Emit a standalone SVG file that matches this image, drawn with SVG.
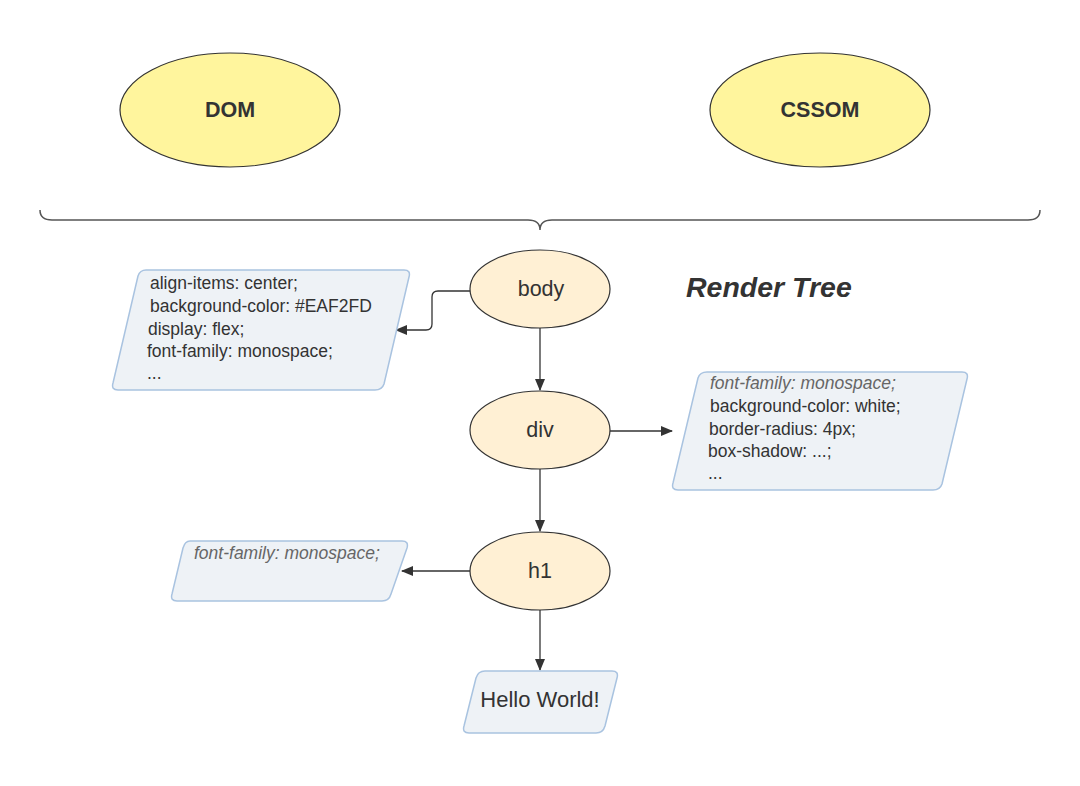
<svg xmlns="http://www.w3.org/2000/svg" width="1080" height="786" viewBox="0 0 1080 786">
<defs>
<style>
.src{fill:#FFF59D;stroke:#333;stroke-width:1.2}
.el{fill:#FFF0D4;stroke:#333;stroke-width:1.2}
.box{fill:#EEF2F6;stroke:#A9C3E0;stroke-width:1.5;stroke-linejoin:round}
.t{font-family:"Liberation Sans",Arial,sans-serif;fill:#333}
.c{fill:none;stroke:#333;stroke-width:1.3}
.i{font-style:italic;fill:#666}
</style>
<marker id="ah" markerWidth="12" markerHeight="10" refX="11" refY="5" orient="auto" markerUnits="userSpaceOnUse">
<path d="M0,0 L12,5 L0,10 Z" fill="#333"/>
</marker>
</defs>
<rect width="1080" height="786" fill="#fff"/>
<g id="dom"><ellipse class="src" cx="230" cy="110" rx="110" ry="57"/><text class="t" x="230" y="117" font-size="21.5" font-weight="bold" text-anchor="middle">DOM</text></g>
<g id="cssom"><ellipse class="src" cx="820" cy="110" rx="110" ry="57"/><text class="t" x="820" y="117" font-size="21.5" font-weight="bold" text-anchor="middle">CSSOM</text></g>
<g id="brace"><path d="M40,210 Q40,220 52,220 L528,220 Q540,220 540,230 Q540,220 552,220 L1028,220 Q1040,220 1040,210" fill="none" stroke="#555" stroke-width="1.5"/></g>
<g id="title"><text class="t" x="686" y="297" font-size="28.5" font-weight="bold" font-style="italic">Render Tree</text></g>
<g id="connectors">
<path class="c" d="M470,291 L438,291 Q432,291 432,297 L432,324 Q432,330 426,330 L396,330" marker-end="url(#ah)"/>
<path class="c" d="M540,328 L540,390" marker-end="url(#ah)"/>
<path class="c" d="M610,431 L672,431" marker-end="url(#ah)"/>
<path class="c" d="M540,469 L540,531" marker-end="url(#ah)"/>
<path class="c" d="M470,571 L402,571" marker-end="url(#ah)"/>
<path class="c" d="M540,610 L540,670" marker-end="url(#ah)"/>
</g>
<g id="body"><ellipse class="el" cx="540" cy="289" rx="70" ry="39"/><text class="t" x="541" y="296" font-size="21.5" text-anchor="middle">body</text></g>
<g id="div"><ellipse class="el" cx="540" cy="430" rx="70" ry="39"/><text class="t" x="540" y="437" font-size="21.5" text-anchor="middle">div</text></g>
<g id="h1"><ellipse class="el" cx="540" cy="571" rx="70" ry="39"/><text class="t" x="540" y="578" font-size="21.5" text-anchor="middle">h1</text></g>
<g id="body-styles">
<path class="box" d="M146,270 L404,270 Q411,270 409,277 L384,384 Q382,390 375,390 L118,390 Q111,390 113,383 L138,276 Q140,270 146,270 Z"/>
<text class="t" font-size="17.5"><tspan x="150" y="289">align-items: center;</tspan><tspan x="150" y="312">background-color: #EAF2FD</tspan><tspan x="148" y="335">display: flex;</tspan><tspan x="147" y="357">font-family: monospace;</tspan><tspan x="147" y="379">...</tspan></text>
</g>
<g id="div-styles">
<path class="box" d="M707,372 L962,372 Q969,372 967,379 L942,484 Q940,490 933,490 L678,490 Q671,490 673,483 L698,378 Q700,372 707,372 Z"/>
<text class="t" font-size="17.5"><tspan class="i" x="710" y="389">font-family: monospace;</tspan><tspan x="710" y="412">background-color: white;</tspan><tspan x="709" y="435">border-radius: 4px;</tspan><tspan x="708" y="457">box-shadow: ...;</tspan><tspan x="708" y="479">...</tspan></text>
</g>
<g id="h1-styles">
<path class="box" d="M190,541 L402,541 Q409,541 407,548 L391,594 Q389,601 382,601 L177,601 Q170,601 172,594 L183,548 Q185,541 190,541 Z"/>
<text class="t i" x="194" y="559" font-size="17.5">font-family: monospace;</text>
</g>
<g id="hello">
<path class="box" d="M485,671 L612,671 Q619,671 617,678 L605,726 Q603,733 596,733 L469,733 Q462,733 464,726 L476,678 Q478,671 485,671 Z"/>
<text class="t" x="540" y="707" font-size="22" text-anchor="middle">Hello World!</text>
</g>
</svg>
